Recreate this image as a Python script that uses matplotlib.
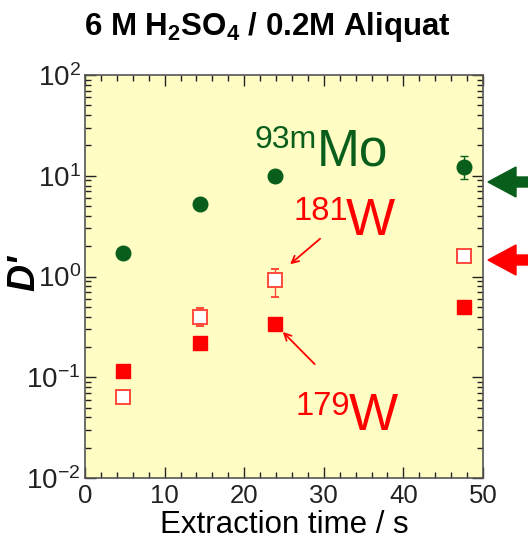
import math
import matplotlib
matplotlib.use('Agg')
import matplotlib.pyplot as plt
from matplotlib.patches import FancyArrow
from matplotlib.transforms import IdentityTransform
from matplotlib.ticker import LogLocator, MultipleLocator, FuncFormatter

plt.rcParams['font.family'] = ['Liberation Sans', 'DejaVu Sans']
plt.rcParams['mathtext.fontset'] = 'custom'
plt.rcParams['mathtext.rm'] = 'Liberation Sans'
plt.rcParams['mathtext.it'] = 'Liberation Sans:italic'
plt.rcParams['mathtext.bf'] = 'Liberation Sans:bold'

# Data
time_s = [4.8, 14.4, 23.9, 47.6]
mo93m = [1.72, 5.2, 10.0, 12.2]
mo93m_lo = [0, 0, 0, 3.0]
mo93m_hi = [0, 0, 0, 3.5]
w181 = [0.063, 0.40, 0.92, 1.61]
w181_lo = [0, 0.08, 0.29, 0.2]
w181_hi = [0, 0.09, 0.26, 0.0]
w179 = [0.115, 0.217, 0.335, 0.50]

GREEN = '#0A5E1C'
RED = '#FF0000'
RED_OPEN = '#FF4A3A'

W, H = 528, 542
fig = plt.figure(figsize=(W / 100, H / 100), dpi=100)
ax = fig.add_axes([85 / W, 1 - 478 / H, (483 - 85) / W, (478 - 75) / H])
ax.set_facecolor('#FFFDC4')

ax.errorbar(time_s, mo93m, yerr=[mo93m_lo, mo93m_hi], fmt='o', ms=10.5,
            color=GREEN, ecolor=GREEN, elinewidth=1, capsize=3, zorder=3)
ax.errorbar(time_s, w181, yerr=[w181_lo, w181_hi], fmt='s', ms=10,
            mfc='white', mec=RED_OPEN, mew=1.4, ecolor=RED_OPEN,
            elinewidth=1, capsize=3, zorder=3)
ax.plot(time_s, w179, 's', ms=10.5, color=RED, zorder=3)

ax.set_yscale('log')
ax.set_xlim(0, 50)
ax.set_ylim(1e-2, 1e2)
ax.xaxis.set_major_locator(MultipleLocator(10))
ax.xaxis.set_minor_locator(MultipleLocator(2))
ax.yaxis.set_major_locator(LogLocator(base=10, numticks=10))
ax.yaxis.set_minor_locator(LogLocator(base=10, subs=range(2, 10), numticks=10))
ax.yaxis.set_major_formatter(FuncFormatter(
    lambda v, p: r'$\mathregular{10^{%d}}$' % round(math.log10(v))))
ax.yaxis.set_minor_formatter(FuncFormatter(lambda v, p: ''))

ax.tick_params(which='both', direction='in', top=True, right=True,
               colors='#222222', pad=4)
ax.tick_params(axis='x', labelsize=18.5)
ax.tick_params(axis='y', labelsize=20, pad=3)
ax.tick_params(which='major', length=8, width=1)
ax.tick_params(which='minor', length=4, width=1)
for sp in ax.spines.values():
    sp.set_color('#555555')
    sp.set_linewidth(1.2)

ax.set_xlabel('Extraction time / s', fontsize=22.5, labelpad=2)
ax.set_ylabel("D'", fontsize=27, fontweight='bold', fontstyle='italic')
ax.yaxis.set_label_coords(-0.108, 0.509)

fig.text(0.506, 1 - 35 / H,
         r'6 M H$_\mathbf{2}$SO$_\mathbf{4}$ / 0.2M Aliquat',
         fontsize=22.5, fontweight='bold', ha='center', va='baseline')

# isotope labels
def px(x, y):
    return x / W, 1 - y / H

fig.text(*px(254, 148), '93m', fontsize=23, color=GREEN, va='baseline')
fig.text(*px(317, 165), 'Mo', fontsize=37, color=GREEN, va='baseline')
fig.text(*px(294, 220), '181', fontsize=23.5, color=RED, va='baseline')
fig.text(*px(346, 235), 'W', fontsize=37.5, color=RED, va='baseline')
fig.text(*px(296, 415), '179', fontsize=23.5, color=RED, va='baseline')
fig.text(*px(349, 430), 'W', fontsize=37.5, color=RED, va='baseline')

ax.annotate('', xy=(25.5, 1.27), xytext=(29.8, 2.47),
            arrowprops=dict(arrowstyle='->,head_length=0.5,head_width=0.25',
                            color=RED, lw=1.3))
ax.annotate('', xy=(24.6, 0.295), xytext=(29.1, 0.129),
            arrowprops=dict(arrowstyle='->,head_length=0.5,head_width=0.25',
                            color=RED, lw=1.3))

# thick arrows outside the axes on the right
for yy, col in [(182, GREEN), (260, RED)]:
    fig.add_artist(FancyArrow(530, H - yy, -42, 0, width=10, head_width=30,
                              head_length=28, length_includes_head=True,
                              color=col, transform=IdentityTransform(),
                              clip_on=False))

fig.savefig('out.png', dpi=100)
